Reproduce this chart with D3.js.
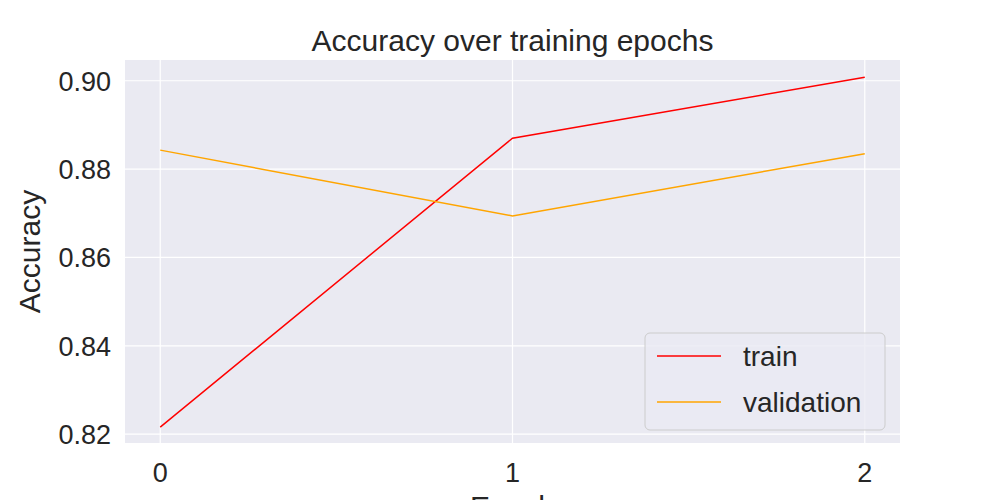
<!DOCTYPE html>
<html><head><meta charset="utf-8">
<script src="https://cdn.jsdelivr.net/npm/d3@7"></script>
<style>body{margin:0;background:#fff}</style></head>
<body><svg id="c" width="1000" height="500"></svg>
<script>
const epochs=[0,1,2];
const train=[0.8216,0.8870,0.9008];
const validation=[0.8843,0.8694,0.8835];
const yTicks=[0.82,0.84,0.86,0.88,0.90];
const svg=d3.select("#c"),font="Arial, Liberation Sans, sans-serif";
const L=125,R=900,T=60,B=443;
const x=d3.scaleLinear().domain([-0.1,2.1]).range([L,R]);
const y=d3.scaleLinear().domain([0.818,0.9047]).range([B,T]);
svg.append("rect").attr("x",L).attr("y",T).attr("width",R-L).attr("height",B-T).attr("fill","#eaeaf2");
svg.selectAll(".gx").data(epochs).join("line").attr("x1",d=>x(d)).attr("x2",d=>x(d)).attr("y1",T).attr("y2",B).attr("stroke","#fff").attr("stroke-width",1.2);
svg.selectAll(".gy").data(yTicks).join("line").attr("y1",d=>y(d)).attr("y2",d=>y(d)).attr("x1",L).attr("x2",R).attr("stroke","#fff").attr("stroke-width",1.2);
svg.selectAll(".tx").data(epochs).join("text").attr("x",d=>x(d)).attr("y",B+39).attr("text-anchor","middle").attr("font-family",font).attr("font-size",27).attr("fill","#262626").text(d=>d);
svg.selectAll(".ty").data(yTicks).join("text").attr("x",L-14).attr("y",d=>y(d)+10).attr("text-anchor","end").attr("font-family",font).attr("font-size",27).attr("fill","#262626").text(d=>d.toFixed(2));
const line=d3.line().x((d,i)=>x(epochs[i])).y(d=>y(d));
svg.append("path").attr("d",line(train)).attr("fill","none").attr("stroke","red").attr("stroke-width",1.5);
svg.append("path").attr("d",line(validation)).attr("fill","none").attr("stroke","orange").attr("stroke-width",1.5);
svg.append("text").attr("x",(L+R)/2).attr("y",51).attr("text-anchor","middle").attr("font-family",font).attr("font-size",30).attr("fill","#262626").text("Accuracy over training epochs");
svg.append("text").attr("x",(L+R)/2).attr("y",517).attr("text-anchor","middle").attr("font-family",font).attr("font-size",30).attr("fill","#262626").text("Epoch");
svg.append("text").attr("transform",`translate(40,${(T+B)/2}) rotate(-90)`).attr("text-anchor","middle").attr("font-family",font).attr("font-size",30).attr("fill","#262626").text("Accuracy");
const lg=svg.append("g");
lg.append("rect").attr("x",645).attr("y",333).attr("width",240).attr("height",97).attr("rx",5).attr("fill","#eaeaf2").attr("fill-opacity",0.8).attr("stroke","#ccc");
[["train","red"],["validation","orange"]].forEach(([n,c],i)=>{
 const yy=356+i*46;
 lg.append("line").attr("x1",657).attr("x2",721).attr("y1",yy).attr("y2",yy).attr("stroke",c).attr("stroke-width",1.5);
 lg.append("text").attr("x",743).attr("y",yy+10).attr("font-family",font).attr("font-size",28).attr("fill","#262626").text(n);
});
</script></body></html>
